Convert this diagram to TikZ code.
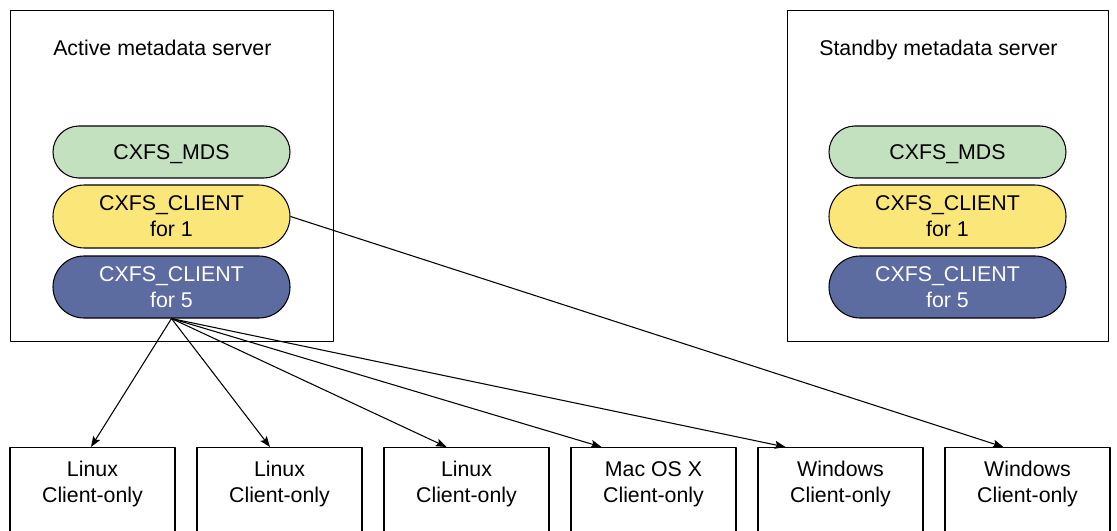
\documentclass[tikz,border=0pt]{standalone}
\usepackage{fontspec}
\setmainfont{Liberation Sans}
\usetikzlibrary{shapes.misc,arrows.meta}

\definecolor{mdsgreen}{RGB}{195,224,191}
\definecolor{cliyellow}{RGB}{251,230,122}
\definecolor{cliblue}{RGB}{92,108,160}
\def\px{0.75pt}

\tikzset{
  server/.style={draw, line width=0.8pt, anchor=north west,
    minimum width=323*\px, minimum height=331*\px, inner sep=0},
  title/.style={anchor=base west, inner sep=0},
  pill/.style={rounded rectangle, draw, line width=0.8pt,
    minimum width=237*\px, align=center, inner sep=0},
  client/.style={draw, line width=0.8pt, anchor=north, minimum width=165*\px,
    align=center, inner ysep=10.5pt, text depth=80pt},
  link/.style={line width=0.8pt, -{Stealth[length=8pt,width=6pt,inset=1.5pt]}}
}

\begin{document}
\begin{tikzpicture}[x=\px, y=-\px, font=\fontsize{16}{19.5}\selectfont, line join=round]
  \useasboundingbox (0,0) rectangle (1117,531);
  % servers
  \node[server] (act) at (10,10) {};
  \node[server, minimum width=321*\px] (sby) at (787,10) {};
  \node[title] (actlbl) at (53,56) {Active metadata server};
  \node[title] (sbylbl) at (819,56) {Standby metadata server};
  % daemons
  \foreach \s/\x in {act/171.5, sby/947.5} {
    \node[pill, fill=mdsgreen, minimum height=52*\px, text depth=0pt] (\s mds) at (\x,152) {CXFS\_MDS};
    \node[pill, fill=cliyellow, minimum height=63*\px] (\s one) at (\x,216.5) {CXFS\_CLIENT\\for 1};
    \node[pill, fill=cliblue, text=white, minimum height=62*\px] (\s five) at (\x,287) {CXFS\_CLIENT\\for 5};
  }
  % client-only nodes
  \foreach \n/\x/\os in {1/92.5/Linux, 2/279.5/Linux, 3/466.5/Linux,
      4/653.5/Mac OS X, 5/840.5/Windows, 6/1027.5/Windows} {
    \node[client] (co\n) at (\x,447) {\os\\Client-only};
  }
  % links
  \foreach \n/\d in {1/-1.5, 2/-9.5, 3/-20, 4/-52, 5/-55} {
    \draw[link] (actfive.south) -- ([xshift=\d*\px]co\n.north);
  }
  \draw[link] (actone.east) -- ([xshift=-24*\px]co6.north);
\end{tikzpicture}
\end{document}
